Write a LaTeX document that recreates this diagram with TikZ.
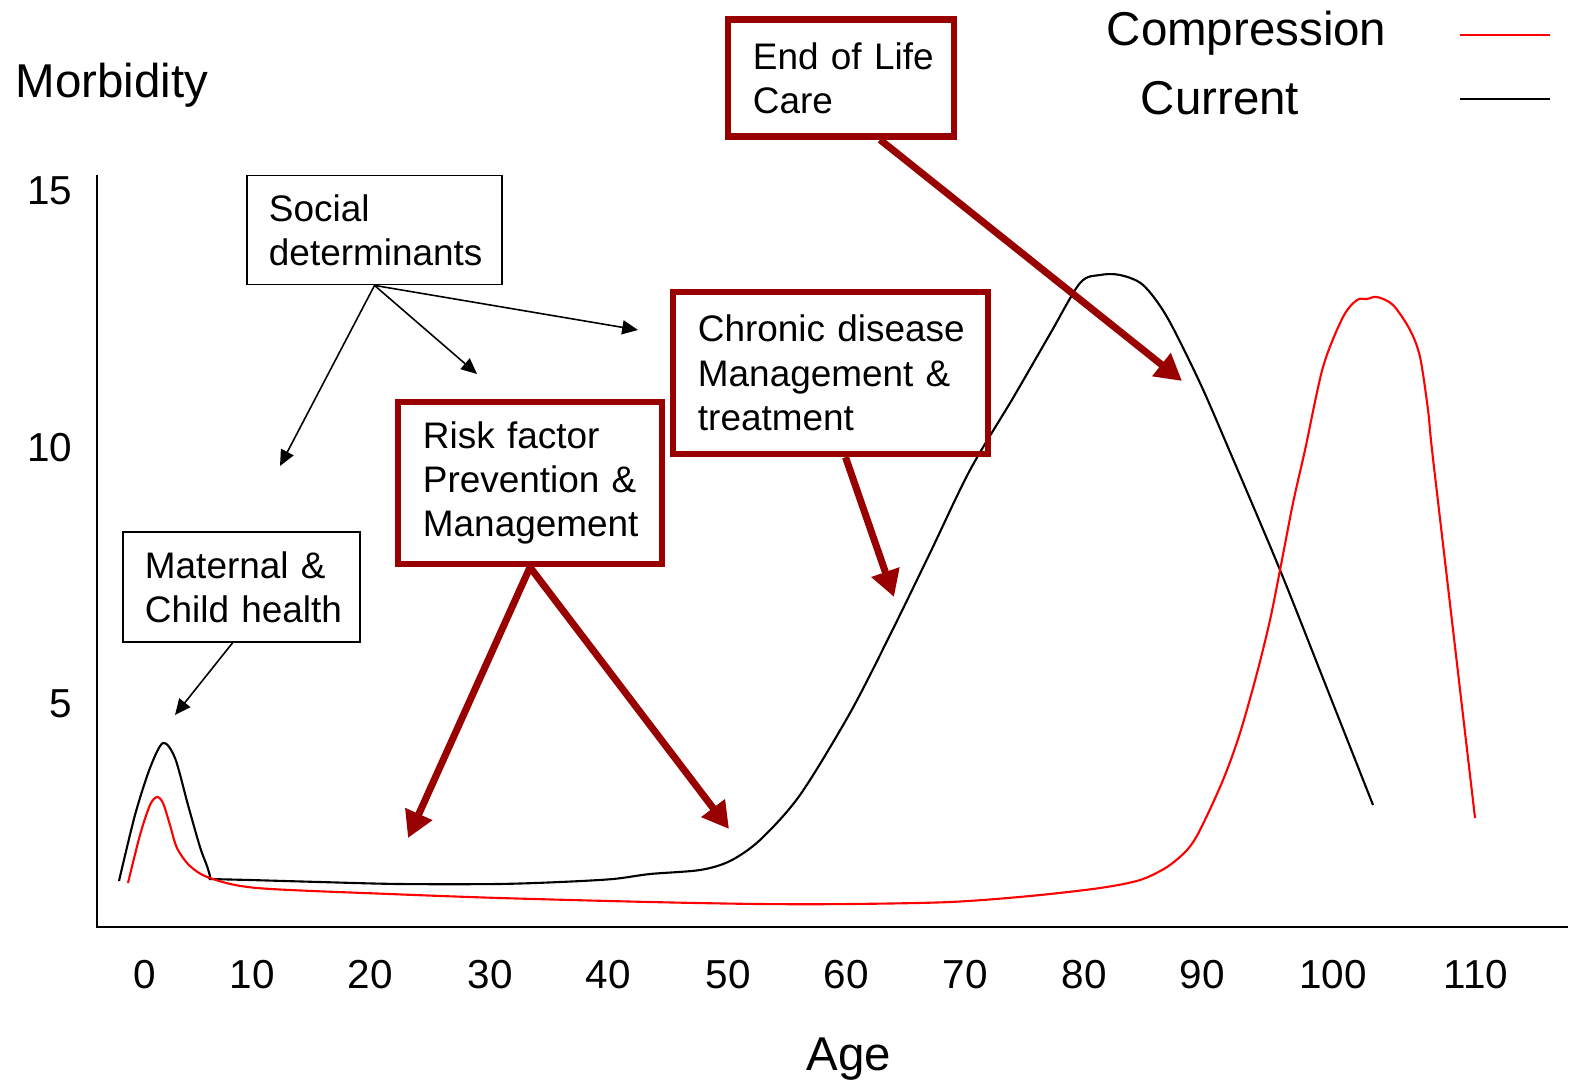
\documentclass[tikz,border=0pt]{standalone}
\usepackage{fontspec}
\setmainfont{Liberation Sans}
\usepackage{tikz}
\usetikzlibrary{arrows.meta,positioning}
\definecolor{boxred}{RGB}{153,0,0}

\begin{document}
\begin{tikzpicture}[x=0.01cm, y=-0.01cm,
        infobox/.style={draw, line width=0.5pt, align=left, inner xsep=0.22cm, font=\fontsize{10.5}{12.6}\selectfont},
        keybox/.style={infobox, draw=boxred, line width=1.8pt, inner xsep=0.25cm},
        thinarrow/.style={-{Triangle[length=4.5pt,width=4pt]}, line width=0.45pt},
        bigarrow/.style={-{Triangle[length=7.5pt,width=8pt]}, boxred, line width=2pt},
        bigtext/.style={inner sep=0pt, font=\fontsize{13.5}{16}\selectfont},
        ticktext/.style={inner sep=0pt, font=\fontsize{11.5}{14}\selectfont}]
        \useasboundingbox (0,0) rectangle (1574,1085);

        % Axes
        \draw[line width=0.7pt] (97,175) -- (97,927) -- (1568,927);
        \node[bigtext, anchor=base west] (ylabel) at (15,98) {Morbidity};
        \node[bigtext, anchor=base] (xlabel) at (849,1070) {Age};
        \foreach \age/\px in {0/145,10/252,20/370,30/490,40/608,50/728,60/846,70/965,80/1084,90/1202,100/1333,110/1476}
            \node[ticktext, anchor=base] (tick\age) at (\px,988) {\age};
        \foreach \val/\py in {15/204,10/461,5/717}
            \node[ticktext, anchor=base east] (ytick\val) at (73,\py) {\val};

        % Legend
        \node[bigtext, anchor=base west] (lgcomp) at (1106,46) {Compression};
        \node[bigtext, anchor=base west] (lgcurr) at (1140,114) {Current};
        \draw[red, line width=0.6pt] (1460,35) -- (1550,35);
        \draw[line width=0.6pt] (1460,99) -- (1550,99);

        % Current
        \draw[line width=0.6pt] plot[smooth] coordinates {(119,881) (135,815) (150,768) (163,743) (175,758) (188,805) (200,847) (207,866) (210,876)}
            -- (209,879)
            plot[smooth] coordinates {(209,879) (250,880) (320,882) (400,884) (497,884) (560,882) (613,879) (650,874) (700,870) (730,861) (760,840) (800,795) (850,713) (890,635) (930,553) (970,470) (1013,398) (1050,334) (1080,283) (1100,275) (1120,275) (1143,285) (1167,317) (1200,383) (1230,452) (1280,570) (1326,686) (1373,805)};

        % Compression
        \draw[red, line width=0.6pt] plot[smooth] coordinates {(128,883) (140,835) (150,805) (157,797) (163,803) (170,825) (177,848) (190,866) (210,878) (257,888) (390,894) (500,898) (650,902) (760,904) (850,904) (950,902) (1030,896) (1100,888) (1140,880) (1167,867) (1187,850) (1200,830) (1223,780) (1240,733) (1257,673) (1270,620) (1280,570) (1293,503) (1305,450) (1323,367) (1343,317) (1357,300) (1367,299) (1377,297) (1393,305) (1410,330) (1420,357) (1428,410) (1432,450) (1448,587) (1475,818)};

        % Boxes
        \node[infobox, text width=2.11cm, minimum height=1.09cm] (social) at (374.5,230) {Social\\determinants};
        \node[infobox, text width=1.93cm, minimum height=1.10cm] (maternal) at (241.5,587) {Maternal~\&\\Child~health};
        \node[keybox, text width=2.14cm, minimum height=1.62cm] (risk) at (530,483) {Risk~factor\\Prevention~\&\\Management};
        \node[keybox, text width=2.65cm, minimum height=1.62cm] (chronic) at (830.5,373) {\mbox{Chronic disease}\\\mbox{Management \&}\\treatment};
        \node[keybox, text width=1.76cm, minimum height=1.17cm] (endlife) at (841,78) {\mbox{End of Life}\\Care};

        % Arrows
        \coordinate (sdA) at (280,466);
        \coordinate (sdB) at (477,374);
        \coordinate (sdC) at (638,330);
        \coordinate (mcA) at (175,715);
        \draw[thinarrow] (social.south) -- (sdA);
        \draw[thinarrow] (social.south) -- (sdB);
        \draw[thinarrow] (social.south) -- (sdC);
        \draw[thinarrow] ([xshift=-0.09cm]maternal.south) -- (mcA);

        \coordinate (rfA) at (408,838);
        \coordinate (rfB) at (729,829);
        \coordinate (cdA) at (894,597);
        \coordinate (elA) at (1182,381);
        \draw[bigarrow] (risk.south) -- (rfA);
        \draw[bigarrow] (risk.south) -- (rfB);
        \draw[bigarrow] ([xshift=0.15cm]chronic.south) -- (cdA);
        \draw[bigarrow] ([xshift=0.39cm]endlife.south) -- (elA);
\end{tikzpicture}
\end{document}
